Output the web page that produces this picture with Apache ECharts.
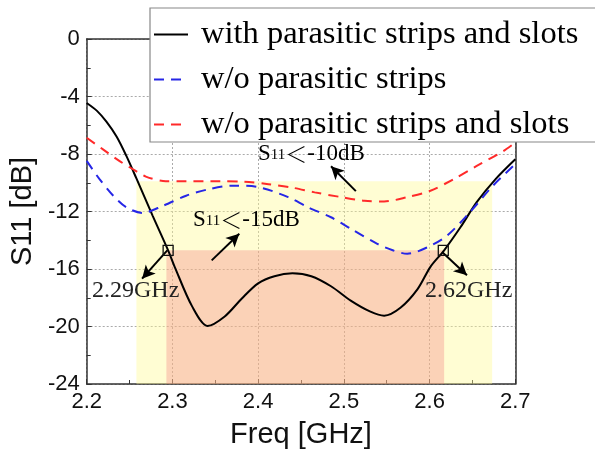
<!DOCTYPE html>
<html>
<head>
<meta charset="utf-8">
<script src="https://cdn.jsdelivr.net/npm/echarts@6/dist/echarts.min.js"></script>
<style>html,body{margin:0;padding:0;background:#fff}#c{width:595px;height:454px}</style>
</head>
<body>
<div id="c"></div>
<script>
// ---- data ----
const seriesNames = ['with parasitic strips and slots', 'w/o parasitic strips', 'w/o parasitic strips and slots'];

const freqBlack = [2.2, 2.212, 2.223, 2.235, 2.246, 2.258, 2.277, 2.295, 2.303, 2.323, 2.341, 2.361, 2.381, 2.4, 2.419, 2.44, 2.462, 2.485, 2.508, 2.531, 2.547, 2.566, 2.586, 2.601, 2.617, 2.636, 2.655, 2.677, 2.7];
const dbBlack = [-4.45, -5.0, -5.75, -6.8, -8.1, -9.7, -12.3, -14.7, -15.9, -18.6, -19.96, -19.3, -18.05, -17.0, -16.5, -16.3, -16.5, -17.2, -18.2, -18.97, -19.25, -18.7, -17.4, -15.85, -14.7, -13.1, -11.35, -9.75, -8.37];

const freqBlue = [2.2, 2.215, 2.231, 2.246, 2.265, 2.289, 2.316, 2.343, 2.37, 2.4, 2.435, 2.458, 2.485, 2.508, 2.539, 2.557, 2.574, 2.597, 2.62, 2.647, 2.674, 2.7];
const dbBlue = [-8.48, -9.75, -10.9, -11.7, -12.1, -11.6, -10.9, -10.44, -10.2, -10.3, -11.0, -11.7, -12.4, -13.2, -14.25, -14.7, -14.94, -14.5, -13.7, -12.05, -10.2, -8.7];

const freqRed = [2.2, 2.219, 2.238, 2.254, 2.269, 2.289, 2.316, 2.354, 2.384, 2.412, 2.439, 2.466, 2.497, 2.524, 2.547, 2.574, 2.601, 2.628, 2.655, 2.686, 2.7];
const dbRed = [-6.87, -7.68, -8.48, -9.06, -9.57, -9.87, -9.9, -9.9, -9.93, -10.1, -10.33, -10.67, -11.0, -11.25, -11.3, -11.0, -10.56, -9.75, -8.83, -7.8, -7.2];

// shaded bands: [fromFreq, toFreq, topDb]
const band10 = [2.258, 2.673, -9.9];
const band15 = [2.293, 2.617, -14.7];

// marked band edges
const markerFreq = [2.295, 2.616];
const markerDb = [-14.7, -14.7];

// arrows: [fromFreq, fromDb] -> [toFreq, toDb]
const arrowFrom = [[2.294, -14.71], [2.6146, -14.82], [2.514, -10.58], [2.3458, -15.40]];
const arrowTo = [[2.2646, -16.67], [2.6436, -16.44], [2.485, -8.85], [2.378, -13.55]];

const xTicks = {min: 2.2, max: 2.7, step: 0.1};
const yTicks = {min: -24, max: 0, step: 4};

// ---- chart ----
const zip = (a, b) => a.map((v, i) => [v, b[i]]);
const chart = echarts.init(document.getElementById('c'), null, {renderer: 'canvas'});

const axisLineStyle = {color: '#333', width: 1.5};
const splitStyle = {show: true, lineStyle: {color: '#aaa', type: [2, 2], width: 1}};

const subText = () => ({
  rich: {
    s: {fontFamily: 'Liberation Serif', fontSize: 23, color: '#111'},
    n: {fontFamily: 'Liberation Serif', fontSize: 15, color: '#111', padding: [4, 0, 0, 0]},
    lt: {fontFamily: 'Noto Sans CJK SC', fontSize: 22, color: '#111', fontWeight: 300},
    t: {fontFamily: 'Liberation Serif', fontSize: 23, color: '#111'}
  }
});

const option = {
  animation: false,
  backgroundColor: '#fff',
  grid: {left: 84.3, right: 79.7, top: 39, bottom: 68},
  legend: {
    data: seriesNames,
    orient: 'vertical',
    left: 150, top: 8,
    padding: [10, 80, 1, 3],
    itemWidth: 34, itemHeight: 14, itemGap: 12,
    backgroundColor: '#fff',
    borderColor: '#888', borderWidth: 1.2,
    itemStyle: {opacity: 0},
    textStyle: {fontFamily: 'Liberation Serif', fontSize: 32.5, color: '#000', lineHeight: 30, padding: [0, 0, 0, 8]},
    z: 10
  },
  xAxis: [{
    type: 'value', min: xTicks.min, max: xTicks.max, interval: xTicks.step,
    name: 'Freq [GHz]', nameLocation: 'middle', nameGap: 36,
    nameTextStyle: {fontFamily: 'Liberation Sans', fontSize: 29, color: '#111'},
    axisLine: {show: true, onZero: false, lineStyle: axisLineStyle},
    axisTick: {show: true, inside: true, length: 5, lineStyle: {color: '#333'}},
    minorTick: {show: true, splitNumber: 2, length: 4, lineStyle: {color: '#333'}},
    axisLabel: {fontFamily: 'Liberation Sans', fontSize: 22, color: '#111', margin: 7, formatter: v => v.toFixed(1)},
    splitLine: splitStyle
  }, {
    type: 'value', position: 'top', min: xTicks.min, max: xTicks.max, interval: xTicks.step,
    axisLine: {show: true, onZero: false, lineStyle: axisLineStyle},
    axisTick: {show: false}, axisLabel: {show: false}, splitLine: {show: false}
  }],
  yAxis: [{
    type: 'value', min: yTicks.min, max: yTicks.max, interval: yTicks.step,
    name: 'S11 [dB]', nameLocation: 'middle', nameGap: 47,
    nameTextStyle: {fontFamily: 'Liberation Sans', fontSize: 29, color: '#111'},
    axisLine: {show: true, onZero: false, lineStyle: axisLineStyle},
    axisTick: {show: true, inside: true, length: 5, lineStyle: {color: '#333'}},
    minorTick: {show: true, splitNumber: 2, length: 4, lineStyle: {color: '#333'}},
    axisLabel: {fontFamily: 'Liberation Sans', fontSize: 22, color: '#111', margin: 7},
    splitLine: splitStyle
  }, {
    type: 'value', position: 'right', min: yTicks.min, max: yTicks.max, interval: yTicks.step,
    axisLine: {show: true, onZero: false, lineStyle: axisLineStyle},
    axisTick: {show: false}, axisLabel: {show: false}, splitLine: {show: false}
  }],
  series: [
    {
      name: 'band10', type: 'line', data: [], z: 1, silent: true,
      markArea: {silent: true, itemStyle: {color: 'rgba(255,250,150,0.42)'},
        data: [[{coord: [band10[0], band10[2]]}, {coord: [band10[1], yTicks.min]}]]}
    },
    {
      name: seriesNames[0], type: 'line', data: zip(freqBlack, dbBlack), smooth: 0.3,
      symbol: 'none', z: 2, lineStyle: {color: '#000', width: 2}, itemStyle: {color: '#000'}
    },
    {
      name: seriesNames[1], type: 'line', data: zip(freqBlue, dbBlue), smooth: 0.3,
      symbol: 'none', z: 2, lineStyle: {color: '#2626e6', width: 2, type: [10, 7]}, itemStyle: {color: '#2626e6'}
    },
    {
      name: seriesNames[2], type: 'line', data: zip(freqRed, dbRed), smooth: 0.3,
      symbol: 'none', z: 2, lineStyle: {color: '#ff2a2a', width: 2, type: [10, 7]}, itemStyle: {color: '#ff2a2a'}
    },
    {
      name: 'band15', type: 'line', data: [], z: 3, silent: true,
      markArea: {silent: true, itemStyle: {color: 'rgba(242,112,118,0.30)'},
        data: [[{coord: [band15[0], band15[2]]}, {coord: [band15[1], yTicks.min]}]]}
    },
    {
      name: 'markers', type: 'scatter', z: 5, silent: true,
      data: zip(markerFreq, markerDb),
      symbol: 'rect', symbolSize: 10,
      itemStyle: {color: 'rgba(0,0,0,0)', borderColor: '#111', borderWidth: 1.3, opacity: 1},
      markLine: {
        silent: true, symbol: ['none', 'arrow'], symbolSize: [10, 13],
        lineStyle: {color: '#000', width: 2, type: 'solid'},
        label: {show: false},
        data: arrowFrom.map((f, i) => [{coord: f}, {coord: arrowTo[i]}])
      }
    }
  ],
  graphic: [
    {type: 'text', left: 258, top: 142, z: 20, style: Object.assign({text: '{s|S}{n|11}{lt|＜}{t|-10dB}'}, subText())},
    {type: 'text', left: 193, top: 208, z: 20, style: Object.assign({text: '{s|S}{n|11}{lt|＜}{t|-15dB}'}, subText())},
    {type: 'text', left: 92, top: 279, z: 20, style: {text: '2.29GHz', fontFamily: 'Liberation Serif', fontSize: 24, fill: '#222'}},
    {type: 'text', left: 425, top: 279, z: 20, style: {text: '2.62GHz', fontFamily: 'Liberation Serif', fontSize: 24, fill: '#222'}}
  ]
};
chart.setOption(option);
</script>
</body>
</html>
